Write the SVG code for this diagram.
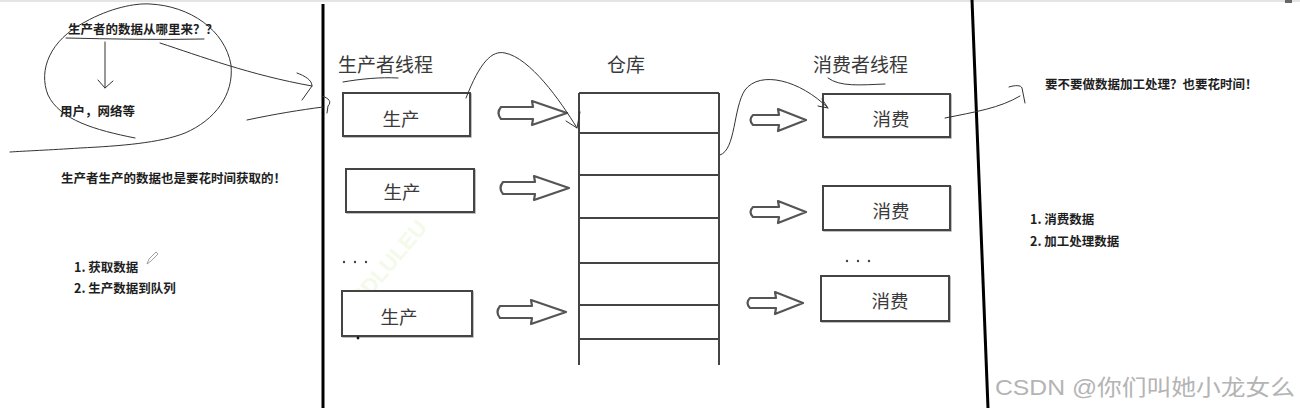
<svg xmlns="http://www.w3.org/2000/svg" width="1300" height="408" viewBox="0 0 1300 408">
<style>
.note{font-family:"Noto Sans CJK SC","Noto Sans",sans-serif;font-weight:bold;font-size:12.5px;fill:#1e1e1e}
.head{font-family:"Noto Sans CJK SC","Noto Sans",sans-serif;font-size:19px;fill:#3a3a3a}
.lbl{font-family:"Noto Sans CJK SC","Noto Sans",sans-serif;font-size:18.5px;fill:#3a3a3a;text-anchor:middle}
.box{fill:#fff;stroke:#444;stroke-width:2}
.shadow{fill:none;stroke:#aaa;stroke-width:1.5}
.ink{fill:none;stroke:#333;stroke-width:1;stroke-linecap:round;stroke-linejoin:round}
.blk{fill:#fff;stroke:#555;stroke-width:2.2;stroke-linejoin:round}
.wh{fill:none;stroke:#444;stroke-width:2}
.wall{stroke:#000;stroke-width:3}
</style>
<defs>
<path id="parrow" d="M4,-6 L36,-6 L35,-12 L70,0 L35,12 L36,6 L4,6 Q-1,0 4,-6 Z"/>
<path id="carrow" d="M4,-5 L30,-5 L29,-11 L57,0 L29,11 L30,5 L4,5 Q-1,0 4,-5 Z"/>
</defs>
<rect x="0" y="0" width="1300" height="408" fill="#fff"/>
<rect x="0" y="0" width="1300" height="2" fill="#e4e4e4"/>
<rect x="1285" y="0" width="7" height="3" fill="#666"/>

<!-- walls -->
<line class="wall" x1="323" y1="4" x2="323" y2="408"/>
<line class="wall" x1="972" y1="0" x2="988" y2="408"/>

<!-- faint watermark -->
<text x="385" y="276" transform="rotate(-50 385 270)" text-anchor="middle" font-family="Liberation Sans, sans-serif" font-weight="bold" font-size="22" fill="#f3faea">UEDLULEU</text>

<!-- left annotations -->
<g id="left-notes">
<text class="note" x="68" y="33.7">生产者的数据从哪里来？？</text>
<text class="note" x="60" y="115.7">用户，网络等</text>
<text class="note" x="61" y="182.7">生产者生产的数据也是要花时间获取的！</text>
<text class="note" x="74" y="271.5">1. 获取数据</text>
<text class="note" x="74" y="292.5">2. 生产数据到队列</text>
<path d="M147,264 L149,259 L156,252 L158,254 L151,261 Z" fill="none" stroke="#888" stroke-width="0.8"/>
</g>

<!-- right annotations -->
<g id="right-notes">
<text class="note" x="1045" y="88.7">要不要做数据加工处理？也要花时间！</text>
<text class="note" x="1030" y="223.7">1. 消费数据</text>
<text class="note" x="1030" y="245.7">2. 加工处理数据</text>
</g>

<!-- headings -->
<g id="headings">
<text class="head" x="338" y="72">生产者线程</text>
<text class="head" x="607" y="72">仓库</text>
<text class="head" x="813" y="72">消费者线程</text>
</g>

<!-- producers -->
<g id="producer1">
<rect class="shadow" x="344" y="94" width="127" height="43"/>
<rect class="box" x="343" y="93" width="127" height="43"/>
<text class="lbl" x="401" y="126">生产</text>
</g>
<g id="producer2">
<rect class="shadow" x="347" y="170" width="128" height="43"/>
<rect class="box" x="346" y="169" width="128" height="43"/>
<text class="lbl" x="402" y="199">生产</text>
</g>
<g id="producer-dots">
<circle cx="344" cy="262" r="1.2" fill="#444"/>
<circle cx="355" cy="262" r="1.2" fill="#444"/>
<circle cx="366" cy="262" r="1.2" fill="#444"/>
</g>
<g id="producer3">
<rect class="shadow" x="343" y="292" width="130" height="45"/>
<rect class="box" x="342" y="291" width="130" height="45"/>
<text class="lbl" x="399" y="324">生产</text>
<circle cx="358" cy="338" r="1.4" fill="#111"/>
</g>

<!-- warehouse -->
<g id="warehouse">
<path class="wh" d="M579,93 L719,93 M579,93 L579,365 M719,93 L719,365 M579,133 L719,133 M579,175 L719,175 M579,218 L719,218 M579,263 L719,263 M579,305 L719,305 M579,339 L719,339"/>
</g>

<!-- consumers -->
<g id="consumer1">
<rect class="shadow" x="824" y="95" width="127" height="43"/>
<rect class="box" x="823" y="94" width="127" height="43"/>
<text class="lbl" x="891" y="126">消费</text>
</g>
<g id="consumer2">
<rect class="shadow" x="824" y="187" width="127" height="44"/>
<rect class="box" x="823" y="186" width="127" height="44"/>
<text class="lbl" x="891" y="218">消费</text>
</g>
<g id="consumer-dots">
<circle cx="847" cy="261" r="1.2" fill="#444"/>
<circle cx="858" cy="261" r="1.2" fill="#444"/>
<circle cx="869" cy="261" r="1.2" fill="#444"/>
</g>
<g id="consumer3">
<rect class="shadow" x="822" y="277" width="128" height="45"/>
<rect class="box" x="821" y="276" width="128" height="45"/>
<text class="lbl" x="890" y="308">消费</text>
</g>

<!-- connectors -->
<g id="connectors">
<use href="#parrow" class="blk" transform="translate(497,113)"/>
<use href="#parrow" class="blk" transform="translate(499,188)"/>
<use href="#parrow" class="blk" transform="translate(496,312)"/>
<use href="#carrow" class="blk" transform="translate(749,120)"/>
<use href="#carrow" class="blk" transform="translate(749,212)"/>
<use href="#carrow" class="blk" transform="translate(746,303)"/>

<!-- hand-drawn strokes -->
<path class="ink" d="M135,138 C95,130 60,120 48,95 C38,70 50,40 85,22 C110,8 135,3 150,4 C190,6 225,30 231,65 C234,95 215,120 185,133 C160,143 120,146 80,148 C50,150 25,151 10,152"/>
<path class="ink" d="M66,38 C110,39 160,40 204,39"/>
<path class="ink" d="M105,42 L105,88 M98,80 L105,88 L113,81"/>
<path class="ink" d="M160,43 C200,56 250,75 312,86"/>
<path class="ink" d="M297,73 C305,76 312,80 312,86 L302,100"/>
<path class="ink" d="M247,120 C275,114 300,110 323,107"/>
<path class="ink" d="M322,96 C329,98 332,102 328,106 L327,113"/>
<path class="ink" d="M343,82 C360,79 380,77 398,78"/>
<path class="ink" d="M466,98 C480,62 492,50 505,53 C530,58 560,100 577,128"/>
<path class="ink" d="M566,121 L577,128 L580,112"/>
<path class="ink" d="M720,155 C736,150 733,108 745,90 C760,70 800,80 828,108"/>
<path class="ink" d="M822,99 L828,108 L818,106"/>
<path class="ink" d="M828,78 C840,87 860,85 885,84"/>
<path class="ink" d="M945,118 C975,112 1000,108 1020,96"/>
<path class="ink" d="M1009,87 C1015,85 1021,85 1022,88 L1025,103"/>
</g>

<text x="995" y="395" font-family="Liberation Sans,'Noto Sans CJK SC',sans-serif" font-size="22" fill="#b4b4b4" textLength="300" lengthAdjust="spacingAndGlyphs">CSDN @你们叫她小龙女么</text>
</svg>
